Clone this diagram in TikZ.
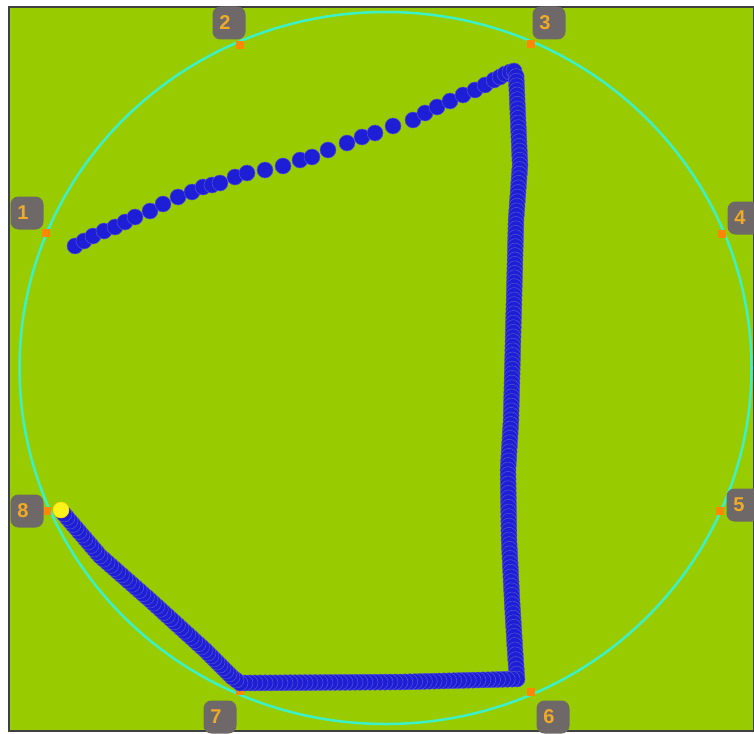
\documentclass[tikz,border=0pt]{standalone}
\usepackage{fontspec,xcolor}
\setmainfont{Liberation Sans}
\usetikzlibrary{calc}
\definecolor{field}{RGB}{153,204,0}
\definecolor{ring}{RGB}{60,240,200}
\definecolor{pin}{RGB}{255,136,0}
\definecolor{tag}{RGB}{110,104,104}
\definecolor{tagtext}{RGB}{240,170,40}
\definecolor{trackfill}{RGB}{30,30,215}
\definecolor{trackline}{RGB}{85,85,205}

\begin{document}
\begin{tikzpicture}[x=1pt,y=-1pt,
 trk/.style={fill=trackfill,draw=trackline,line width=0.5pt},
 mk/.style={fill=pin,inner sep=0pt,minimum size=8pt},
 tg/.style={fill=tag,rounded corners=8pt,minimum width=33pt,minimum height=33pt,inner sep=0pt,
  text=tagtext,font=\bfseries\fontsize{20}{20}\selectfont}]
 \useasboundingbox[fill=white] (0,0) rectangle (754,733);
 \draw[fill=field,draw=black!75,line width=1.5pt] (9,7) rectangle (754,731);
 \draw[ring,line width=2.5pt] (385.5,368) ellipse [x radius=366pt,y radius=356pt];
 % pins on the ring and their tags
 \foreach \n/\mx/\my/\lx/\ly in {1/46/233/27/213, 2/240/45/229/23, 3/531/44/549/23, 4/722/234/744/218,
   5/720/511/743/505, 6/531/692/553/717, 7/240/691/220/717, 8/47/511/27/511}
  {\node[mk] (m\n) at (\mx,\my) {}; \node[tg] (l\n) at (\lx,\ly) {\hspace*{-8pt}\n};}
 % track, first leg
 \foreach \p in {(75,246),(84,241),(93,236),(104,231),(115,227),(125,222),(135,217),(150,211),(163,204),
   (178,197),(192,192),(203,187),(212,185),(220,183),(235,177),(247,173),(265,170),(283,166),(300,160),
   (312,157),(328,150),(347,143),(362,137),(375,133),(393,126),(413,120),(425,113),(437,107),(450,101),
   (463,95),(475,90),(485,85),(494,80),(500,77),(505,74),(510,72),(514,71)}
  \fill[trk] \p circle (8pt);
 % track, dense legs
 \foreach \a/\b/\n in {{516,72}/{517,95}/5, {517,95}/{520,165}/15, {520,165}/{516,220}/12,
   {516,220}/{514,300}/18, {514,300}/{511,420}/26, {511,420}/{508,470}/11, {508,470}/{509,540}/15,
   {509,540}/{512,600}/13, {512,600}/{515,650}/11, {515,650}/{517,679}/6,
   {517,679}/{400,682}/24, {400,682}/{240,683}/32, {240,683}/{232,677}/2,
   {232,677}/{205,650}/9, {205,650}/{150,600}/16, {150,600}/{100,556}/14, {100,556}/{64,514}/12}
  \foreach \k in {1,...,\n}
   \fill[trk] ($(\a)!\k/\n!(\b)$) circle (8pt);
 \fill[yellow!90!white,draw=yellow!70!orange,line width=0.5pt] (61,510) circle (8pt);
\end{tikzpicture}
\end{document}
